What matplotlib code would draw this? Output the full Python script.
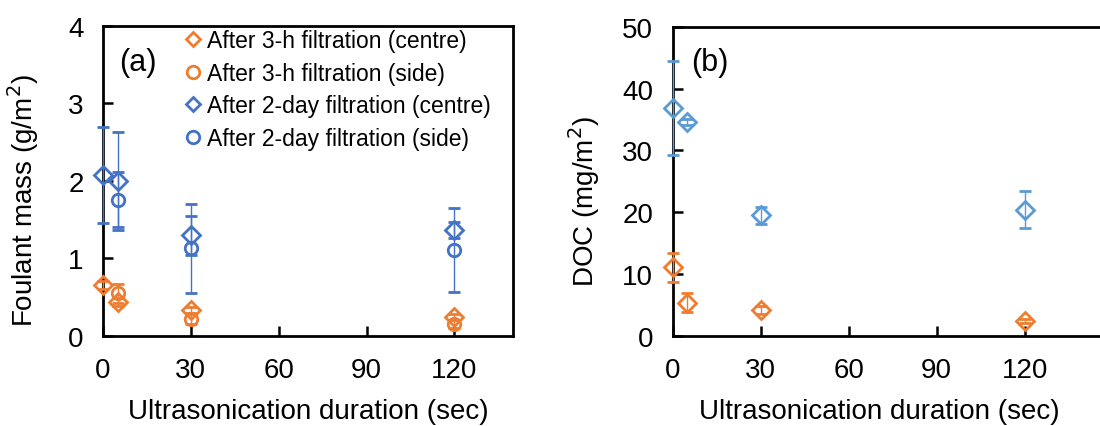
import matplotlib
matplotlib.use("Agg")
import matplotlib.pyplot as plt
import numpy as np

plt.rcParams['font.family'] = ['Liberation Sans', 'DejaVu Sans']

ORANGE = '#ED7D31'
BLUE_A = '#4472C4'
BLUE_B = '#5B9BD5'

# panel (a): foulant mass (g/m2)
x_3h_centre = [0, 5, 30, 120]
y_3h_centre = [0.66, 0.44, 0.34, 0.24]
e_3h_centre = [0.05, 0.05, 0.04, 0.04]

x_3h_side = [5, 30, 120]
y_3h_side = [0.55, 0.22, 0.15]
e_3h_side = [0.12, 0.06, 0.05]

x_2d_centre = [0, 5, 30, 120]
y_2d_centre = [2.08, 2.00, 1.30, 1.37]
e_2d_centre = [0.62, 0.63, 0.25, 0.10]

x_2d_side = [5, 30, 120]
y_2d_side = [1.76, 1.13, 1.11]
e_2d_side = [0.36, 0.57, 0.54]

# panel (b): DOC (mg/m2)
x_doc = [0, 5, 30, 120]
y_doc_3h = [11.1, 5.4, 4.2, 2.4]
e_doc_3h = [2.3, 1.5, 0.6, 0.3]
y_doc_2d = [36.8, 34.6, 19.5, 20.4]
e_doc_2d = [7.6, 0.5, 1.4, 3.0]

x_ticks = [0, 30, 60, 90, 120]

fig = plt.figure(figsize=(11, 4.27), dpi=100)
ax_a = fig.add_axes([0.0936, 0.2108, 0.3727, 0.726])
ax_b = fig.add_axes([0.6115, 0.2108, 0.40, 0.724])


def plot_series(ax, x, y, e, marker, color, ms):
    ax.errorbar(x, y, yerr=e, fmt=marker, ms=ms, mfc='none', mec=color,
                mew=2.0, ecolor=color, elinewidth=1.0, capsize=4, capthick=1.0,
                clip_on=False, zorder=3)


plot_series(ax_a, x_3h_centre, y_3h_centre, e_3h_centre, 'D', ORANGE, 9.5)
plot_series(ax_a, x_3h_side, y_3h_side, e_3h_side, 'o', ORANGE, 9)
plot_series(ax_a, x_2d_centre, y_2d_centre, e_2d_centre, 'D', BLUE_A, 9.5)
plot_series(ax_a, x_2d_side, y_2d_side, e_2d_side, 'o', BLUE_A, 9)

plot_series(ax_b, x_doc, y_doc_3h, e_doc_3h, 'D', ORANGE, 9.5)
plot_series(ax_b, x_doc, y_doc_2d, e_doc_2d, 'D', BLUE_B, 9.5)

# legend with markers only
handles = [
    plt.Line2D([], [], ls='none', marker='D', ms=7, mfc='none', mec=ORANGE, mew=2),
    plt.Line2D([], [], ls='none', marker='o', ms=9, mfc='none', mec=ORANGE, mew=2),
    plt.Line2D([], [], ls='none', marker='D', ms=7, mfc='none', mec=BLUE_A, mew=2),
    plt.Line2D([], [], ls='none', marker='o', ms=9, mfc='none', mec=BLUE_A, mew=2),
]
labels = ['After 3-h filtration (centre)', 'After 3-h filtration (side)',
          'After 2-day filtration (centre)', 'After 2-day filtration (side)']
ax_a.legend(handles, labels, loc='upper left', bbox_to_anchor=(0.175, 1.02),
            frameon=False, fontsize=16.5, handlelength=0.8, handletextpad=0.2,
            labelspacing=0.42, borderaxespad=0)

for ax in (ax_a, ax_b):
    ax.set_xlim(0, 140 if ax is ax_a else 150)
    ax.set_xticks(x_ticks)
    ax.tick_params(axis='both', direction='in', length=7, width=1.8, labelsize=20)
    ax.tick_params(axis='x', pad=15)
    ax.tick_params(axis='y', pad=14)
    for s in ax.spines.values():
        s.set_linewidth(2)
    ax.set_xlabel('Ultrasonication duration (sec)', fontsize=20)

ax_a.set_ylim(0, 4)
ax_a.set_yticks([0, 1, 2, 3, 4])
ax_a.set_ylabel('Foulant mass (g/m$^2$)', fontsize=20)
ax_a.yaxis.set_label_coords(-0.15, 0.44)
ax_a.xaxis.set_label_coords(0.5, -0.2)
ax_a.text(0.04, 0.885, '(a)', transform=ax_a.transAxes, fontsize=22, va='center')

ax_b.set_ylim(0, 50)
ax_b.set_yticks([0, 10, 20, 30, 40, 50])
ax_b.set_ylabel('DOC (mg/m$^2$)', fontsize=20)
ax_b.yaxis.set_label_coords(-0.161, 0.437)
ax_b.xaxis.set_label_coords(0.469, -0.2)
ax_b.text(0.043, 0.885, '(b)', transform=ax_b.transAxes, fontsize=22, va='center')

fig.savefig('out.png', dpi=100)
